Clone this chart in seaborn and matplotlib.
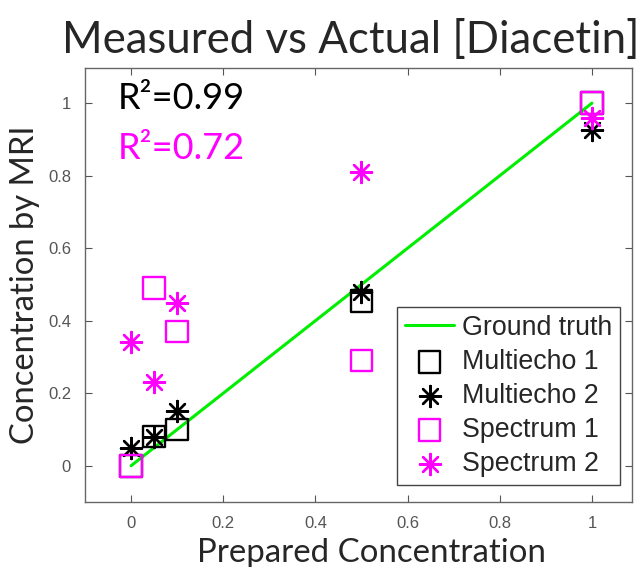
import numpy as np
import pandas as pd
import matplotlib
matplotlib.use("Agg")
import matplotlib.pyplot as plt
import seaborn as sns

# ---- data ----
conc = [0.0, 0.05, 0.1, 0.5, 1.0]
multiecho1 = [0.0, 0.08, 0.10, 0.455, 1.0]
multiecho2 = [0.05, 0.08, 0.15, 0.48, 0.925]
spectrum1 = [0.0, 0.49, 0.37, 0.29, 1.0]
spectrum2 = [0.34, 0.23, 0.45, 0.81, 0.96]
truth_x = [0.0, 1.0]
truth_y = [0.0, 1.0]
r2_labels = ["R\u00b2=0.99", "R\u00b2=0.72"]
series_names = ["Multiecho 1", "Multiecho 2", "Spectrum 1", "Spectrum 2"]
xticks = [0, 0.2, 0.4, 0.6, 0.8, 1]
yticks = [0, 0.2, 0.4, 0.6, 0.8, 1]

sns.set_theme(style="white")
plt.rcParams["font.family"] = ["Liberation Sans", "DejaVu Sans"]

fig = plt.figure(figsize=(6.41, 5.67), dpi=100)
ax = fig.add_axes([85 / 641, 1 - 502 / 567, (632 - 85) / 641, (502 - 68) / 567])

GREEN = "#00ee00"
MAG = "#ff00ff"
BLACK = "#000000"
CAL = ["Lato", "DejaVu Sans"]

sns.lineplot(x=truth_x, y=truth_y, ax=ax, color=GREEN, linewidth=2.2,
             label="Ground truth", zorder=2)

star = (8, 2, 0)
specs = [
    (multiecho1, "s", BLACK, 240, 1.7),
    (multiecho2, star, BLACK, 230, 1.7),
    (spectrum1, "s", MAG, 240, 1.7),
    (spectrum2, star, MAG, 230, 1.7),
]
for name, (vals, mk, col, size, lw) in zip(series_names, specs):
    df = pd.DataFrame({"x": conc, "y": vals})
    if mk == "s":
        sns.scatterplot(data=df, x="x", y="y", ax=ax, marker="s", s=size,
                        facecolor="none", edgecolor=col, linewidth=lw,
                        label=name, zorder=3)
    else:
        sns.scatterplot(data=df, x="x", y="y", ax=ax, marker=mk, s=size,
                        color=col, edgecolor=col, linewidth=lw,
                        label=name, zorder=3)

ax.set_xlim(-0.1, 1.087)
ax.set_ylim(-0.1, 1.097)
ax.set_xticks(xticks)
ax.set_xticklabels([f"{t:g}" for t in xticks])
ax.set_yticks(yticks)
ax.set_yticklabels([f"{t:g}" for t in yticks])
ax.tick_params(direction="in", length=5, width=0.8, color="#555555",
               labelcolor="#555555", labelsize=12, top=True, right=True,
               bottom=True, left=True, pad=10)
for sp in ax.spines.values():
    sp.set_color("#666666")
    sp.set_linewidth(1.0)

ax.set_xlabel("Prepared Concentration", fontsize=23.8, family=CAL, labelpad=5)
ax.xaxis.label.set_x((371 - 85) / 547)
ax.set_ylabel("Concentration by MRI", fontsize=23.6, family=CAL, labelpad=6)

ax.text(-0.028, 1.013, r2_labels[0], fontsize=26, color=BLACK,
        family=CAL, va="center", ha="left")
ax.text(-0.028, 0.876, r2_labels[1], fontsize=26, color=MAG,
        family=CAL, va="center", ha="left")

fig.text(351 / 641, 1 - 53 / 567, "Measured vs Actual [Diacetin]", fontsize=31.5,
         family=CAL, ha="center", va="baseline")

handles, labels = ax.get_legend_handles_labels()
leg = ax.legend(handles, labels, loc="lower right", fontsize=19.3,
                frameon=True, fancybox=False, edgecolor="#444444",
                framealpha=1, handlelength=1.8, handletextpad=0.3,
                labelspacing=0.3, borderpad=0.3,
                bbox_to_anchor=((620 - 85) / 547, (502 - 485) / 434),
                borderaxespad=0)
leg.get_frame().set_linewidth(1.0)

fig.savefig("out.png", dpi=100)
